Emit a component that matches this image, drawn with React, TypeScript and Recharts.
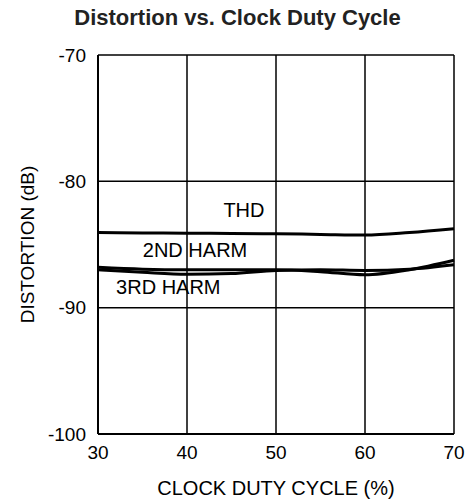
import { CartesianGrid, Line, LineChart, ReferenceDot, XAxis, YAxis } from "recharts";

const dutyCycle = [30, 35, 40, 45, 50, 55, 60, 65, 70];
const thd = [-84.05, -84.08, -84.1, -84.12, -84.15, -84.2, -84.25, -84.05, -83.75];
const harm2 = [-86.8, -86.95, -87.0, -87.0, -87.0, -87.15, -87.4, -87.0, -86.25];
const harm3 = [-87.0, -87.2, -87.35, -87.3, -87.05, -87.0, -87.05, -86.95, -86.6];

const xTicks = [30, 40, 50, 60, 70];
const yTicks = [-100, -90, -80, -70];

const FONT = '"Liberation Sans", Arial, Helvetica, sans-serif';

const data = dutyCycle.map((d, i) => ({
  duty: d,
  thd: thd[i],
  harm2: harm2[i],
  harm3: harm3[i],
}));

const tickStyle = { fontSize: 19, fill: "#000", fontFamily: FONT };
const labelStyle = { fontSize: 20, fill: "#000", fontFamily: FONT };

export default function App() {
  return (
    <div style={{ position: "absolute", left: 0, top: 0, width: 469, height: 502, background: "#fff" }}>
      <div
        style={{
          position: "absolute",
          left: 3,
          top: 7,
          width: 469,
          textAlign: "center",
          fontFamily: FONT,
          fontWeight: "bold",
          fontSize: 22,
          lineHeight: "22px",
          color: "#222",
        }}
      >
        Distortion vs. Clock Duty Cycle
      </div>
      <LineChart width={469} height={502} data={data} margin={{ top: 55, right: 15, bottom: 0, left: 0 }}>
        <CartesianGrid stroke="#000" strokeWidth={1.5} />
        <XAxis
          dataKey="duty"
          type="number"
          domain={[30, 70]}
          ticks={xTicks}
          height={68}
          tickLine={false}
          tickSize={0}
          tickMargin={12}
          axisLine={{ stroke: "#000", strokeWidth: 2 }}
          tick={tickStyle}
          label={{ value: "CLOCK DUTY CYCLE (%)", position: "center", dy: 20, style: labelStyle }}
        />
        <YAxis
          type="number"
          domain={[-100, -70]}
          ticks={yTicks}
          width={98}
          tickLine={false}
          tickSize={0}
          tickMargin={12}
          axisLine={{ stroke: "#000", strokeWidth: 2 }}
          tick={tickStyle}
          label={{ value: "DISTORTION (dB)", angle: -90, position: "center", dx: -22, style: tickStyle }}
        />
        <Line type="monotone" dataKey="thd" stroke="#000" strokeWidth={3} dot={false} isAnimationActive={false} />
        <Line type="monotone" dataKey="harm2" stroke="#000" strokeWidth={3} dot={false} isAnimationActive={false} />
        <Line type="monotone" dataKey="harm3" stroke="#000" strokeWidth={3} dot={false} isAnimationActive={false} />
        <ReferenceDot x={46.4} y={-82.25} r={0} label={{ value: "THD", position: "center", style: labelStyle }} />
        <ReferenceDot x={40.9} y={-85.4} r={0} label={{ value: "2ND HARM", position: "center", style: labelStyle }} />
        <ReferenceDot x={37.9} y={-88.35} r={0} label={{ value: "3RD HARM", position: "center", style: labelStyle }} />
      </LineChart>
    </div>
  );
}
